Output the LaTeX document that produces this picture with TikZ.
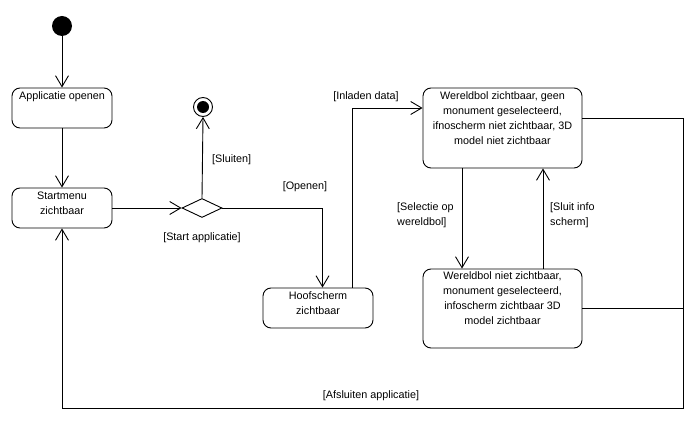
\documentclass[tikz,border=0pt]{standalone}
\usepackage{fontspec}
\setmainfont{Liberation Sans}
\usetikzlibrary{arrows.meta,shapes.geometric,calc}
\begin{document}
\begin{tikzpicture}[x=1pt,y=-1pt,
  every node/.style={font=\fontsize{10.8}{15}\selectfont},
  line/.style={line width=0.9pt},
  arr/.style={line, -{Straight Barb[length=11pt,width=13pt,line width=0.9pt]}},
  state/.style={draw, line width=0.9pt, rounded corners=8pt, inner sep=0pt},
  inlbl/.style={anchor=north, align=center, inner sep=0pt, yshift=-4pt},
  lbl/.style={inner sep=0pt, align=left}]
\useasboundingbox (0,0) rectangle (695,422);
\fill[white] (0,0) rectangle (695,422);

\node[circle, fill=black, minimum size=20pt, inner sep=0pt] (init) at (62,26) {};
\node[state, minimum width=100pt, minimum height=40pt,
  label={[inlbl]north:Applicatie openen}] (appl) at (62,108) {};
\node[state, minimum width=100pt, minimum height=40pt,
  label={[inlbl]north:Startmenu\\zichtbaar}] (start) at (62,208) {};
\node[diamond, draw, line width=0.9pt, minimum width=40pt, minimum height=19pt, inner sep=0pt, aspect=2] (dec) at (202,208) {};
\node[circle, draw, line width=0.9pt, minimum size=19pt, inner sep=0pt] (final) at (203,107) {};
\node[circle, fill=black, minimum size=12pt, inner sep=0pt] (finalin) at (203,107) {};
\node[state, minimum width=110pt, minimum height=40pt,
  label={[inlbl]north:Hoofscherm\\zichtbaar}] (hoof) at (318,308) {};
\node[state, minimum width=159pt, minimum height=80pt,
  label={[inlbl]north:Wereldbol zichtbaar, geen\\monument geselecteerd,\\ifnoscherm niet zichtbaar, 3D\\model niet zichtbaar}] (w1) at (502.5,128) {};
\node[state, minimum width=159pt, minimum height=79pt,
  label={[inlbl,yshift=1pt]north:Wereldbol niet zichtbaar,\\monument geselecteerd,\\infoscherm zichtbaar 3D\\model zichtbaar}] (w2) at (502.5,308.5) {};
\coordinate (corner) at (683,408);

\draw[arr] (init) -- (appl);
\draw[arr] (appl) -- (start);
\draw[arr] (start.east) -- (dec.west);
\draw[arr] (dec.north) -- (final.south);
\draw[arr] (dec.east) -| ([xshift=4.5pt]hoof.north);
\draw[arr] ([xshift=34pt]hoof.north) |- ([yshift=20pt]w1.west);
\draw[arr] ([xshift=-40.5pt]w1.south) -- ([xshift=-40.5pt]w2.north);
\draw[arr] ([xshift=40.5pt]w2.north) -- ([xshift=40.5pt]w1.south);
\draw[arr] ([yshift=10pt]w1.east) -| (corner) -| (start.south);
\draw[line] (w2.east) -- (w2.east -| corner);

\node[lbl, anchor=west] (l1) at (212,160) {[Sluiten]};
\node[lbl] (l2) at (202,238) {[Start applicatie]};
\node[lbl] (l3) at (305,187) {[Openen]};
\node[lbl] (l4) at (366,97) {[Inladen data]};
\node[lbl, anchor=west] (l5) at (397,215) {[Selectie op\\wereldbol]};
\node[lbl, anchor=west] (l6) at (550,215) {[Sluit info\\scherm]};
\node[lbl] (l7) at (371,396) {[Afsluiten applicatie]};
\end{tikzpicture}
\end{document}
